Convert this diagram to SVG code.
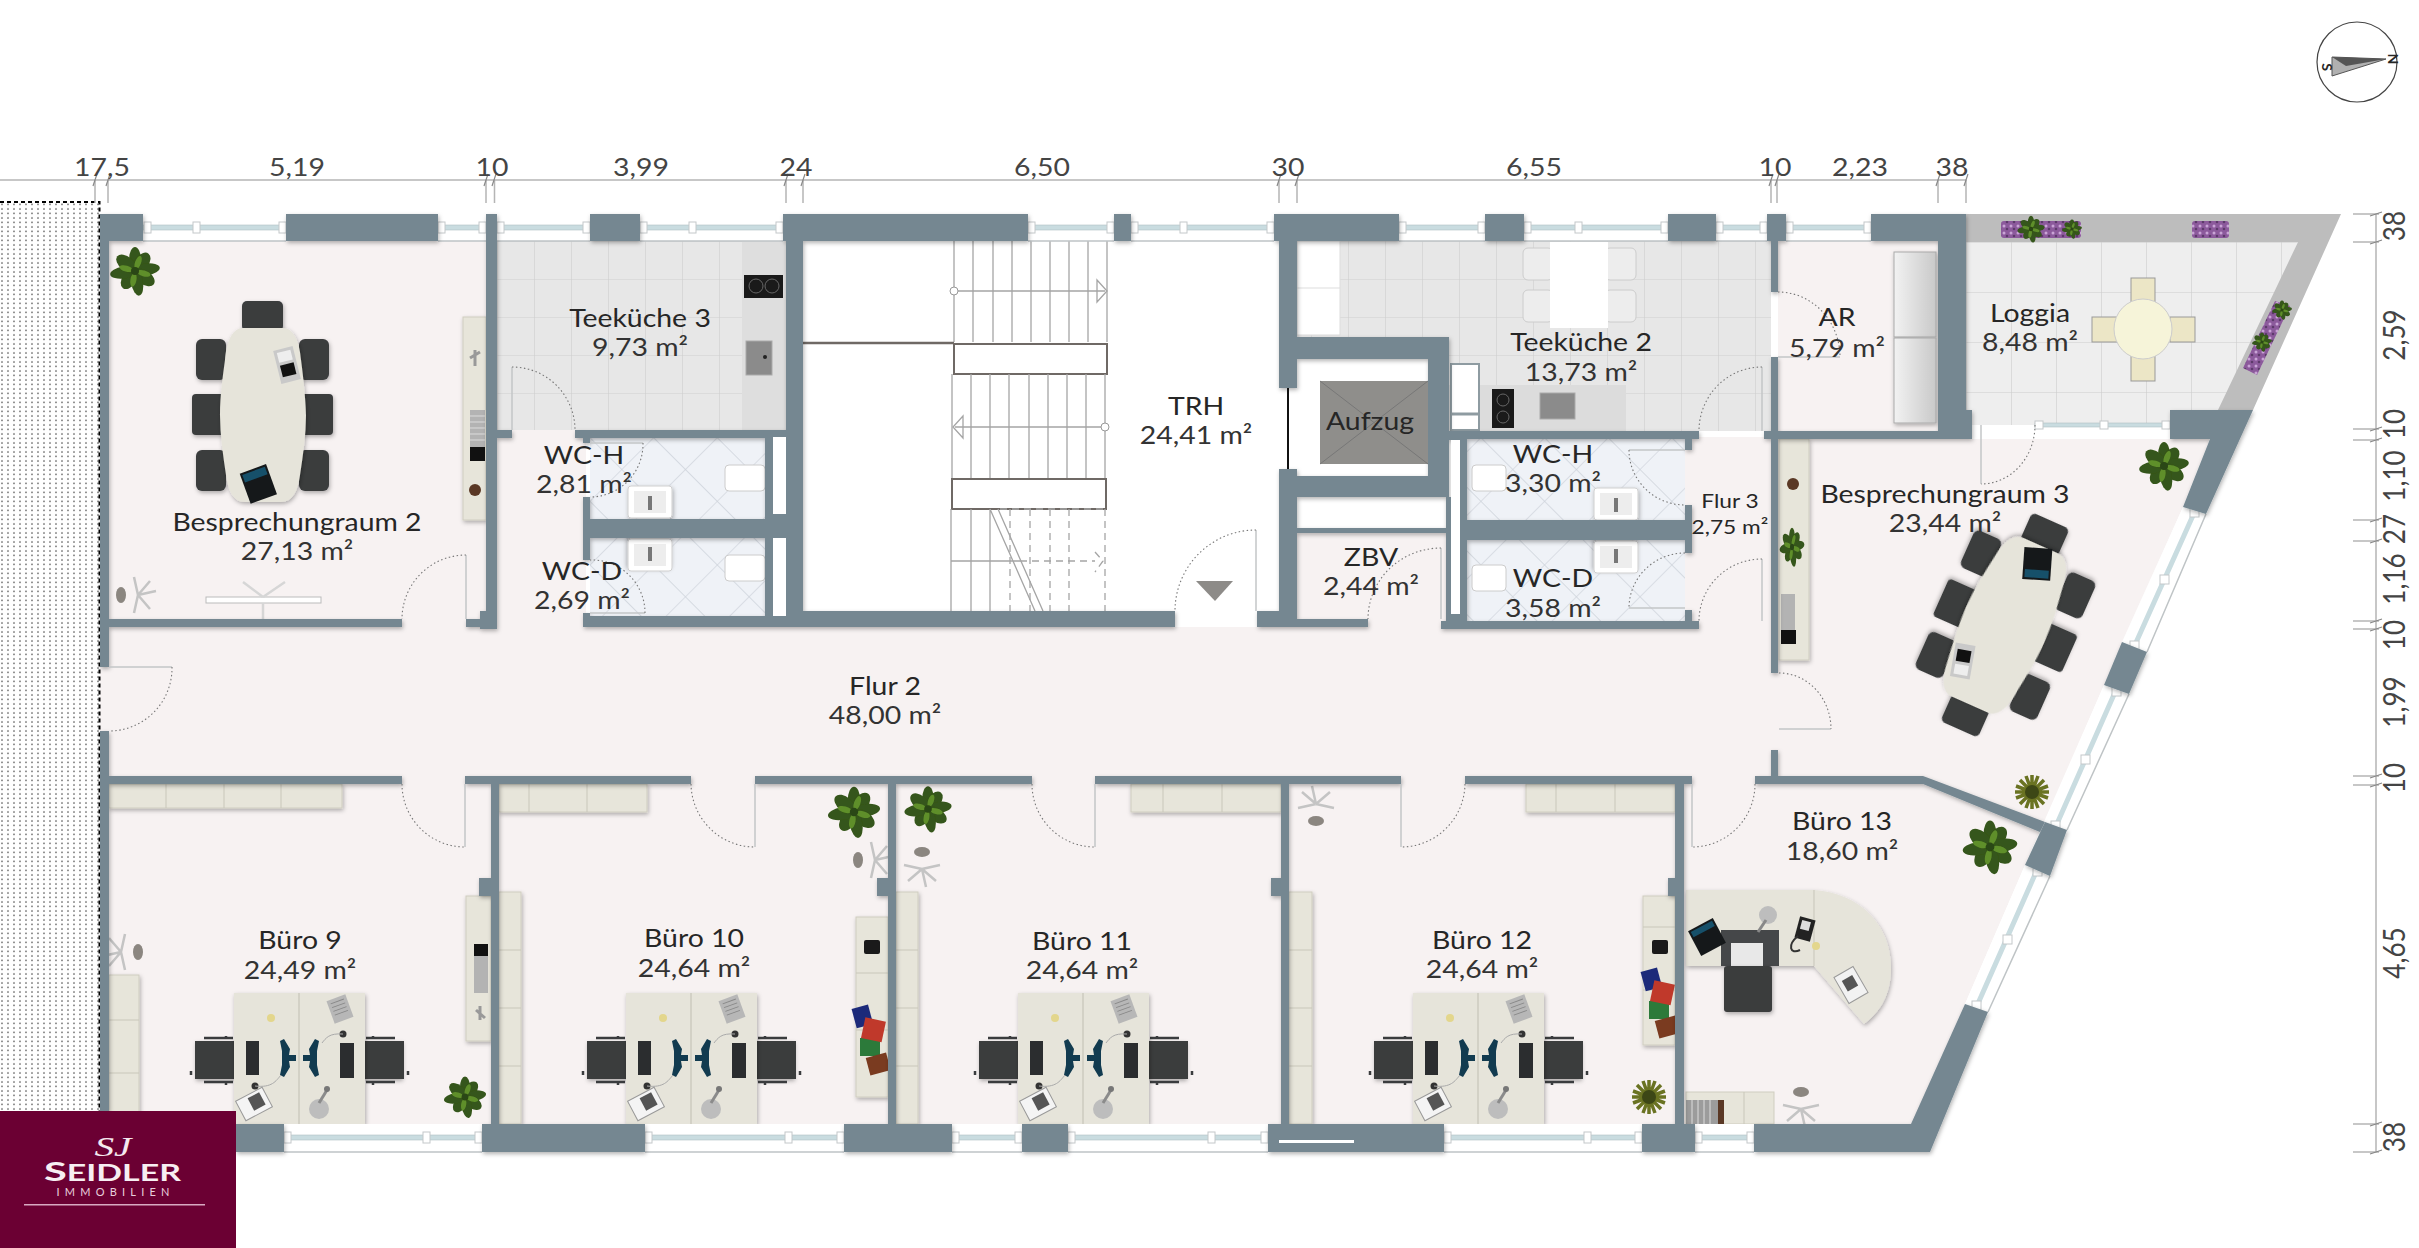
<svg xmlns="http://www.w3.org/2000/svg" xmlns:xlink="http://www.w3.org/1999/xlink" width="2419" height="1248" viewBox="0 0 2419 1248">
<style>
text{font-family:"Lato","Open Sans","Liberation Sans",sans-serif;fill:#262626;text-anchor:middle}
.n{font-size:25px}.a{font-size:25px;fill:#333}.d{font-size:25px;fill:#444}.r{font-size:30px;fill:#444}.s{font-size:20px}
.w{fill:#748791}.fl{fill:#f7f2f2}.cab{fill:#e7e5da;stroke:#cfcdc0;stroke-width:1}
.lf{fill:none;stroke:#c3c6c7;stroke-width:1.5}.arc{fill:none;stroke:#777;stroke-width:1.1;stroke-dasharray:1.5 2.5}
.dim{fill:none;stroke:#b5b5b5;stroke-width:1.5}.st{fill:none;stroke:#a5a5a5;stroke-width:1.3}
.lan{fill:#fff;stroke:#6f6965;stroke-width:2}.wbg{fill:#fff}.gl{fill:#c9dce0;stroke:#aebfc4;stroke-width:.6}
.p{fill:#fff;stroke:#c4c8ca;stroke-width:1}.sh{filter:url(#sh)}
</style>
<defs>
<filter id="sh" x="-20%" y="-20%" width="140%" height="140%"><feDropShadow dx="1" dy="2" stdDeviation="2" flood-color="#000" flood-opacity=".3"/></filter>
<filter id="soft" x="-10%" y="-10%" width="120%" height="120%"><feGaussianBlur stdDeviation=".7"/></filter>
<pattern id="dots" width="6" height="4.500" patternUnits="userSpaceOnUse"><rect width="6" height="4.500" fill="#fff"/><circle cx="2" cy="2" r=".8" fill="#555"/></pattern>
<pattern id="purp" width="7" height="7" patternUnits="userSpaceOnUse"><rect width="7" height="7" fill="#8c5a9c"/><circle cx="2" cy="2" r="1.500" fill="#c9a4d6"/><circle cx="5" cy="5" r="1.300" fill="#5d3a6b"/></pattern>
<pattern id="tile" x="497" y="241" width="37" height="38" patternUnits="userSpaceOnUse"><rect width="37" height="38" fill="#e7e7e7"/><path d="M0 0H37M0 0V38" stroke="#cfcfcf" stroke-width="1.2"/></pattern>
<pattern id="wct" width="45" height="45" patternUnits="userSpaceOnUse" patternTransform="translate(590 437) rotate(45)"><rect width="45" height="45" fill="#eff2f7"/><path d="M0 0H45M0 0V45" stroke="#cdd3da" stroke-width="1.300"/></pattern>
<pattern id="lt" x="1966" y="242" width="45" height="50" patternUnits="userSpaceOnUse"><rect width="45" height="50" fill="#eeeeee"/><path d="M0 0H45M0 0V50" stroke="#cdcdcd" stroke-width="1.2"/></pattern>
<linearGradient id="cg" x1="0" x2="1"><stop offset="0" stop-color="#f2f2f2"/><stop offset="1" stop-color="#c9c9c9"/></linearGradient>
<g id="plant" filter="url(#soft)"><g fill="#35561a"><ellipse rx="6" ry="13" cy="-11"/><ellipse rx="7" ry="11" cy="-11" transform="rotate(38)"/><ellipse rx="6" ry="14" cy="-11" transform="rotate(82)"/><ellipse rx="7" ry="12" cy="-11" transform="rotate(125)"/><ellipse rx="6" ry="14" cy="-11" transform="rotate(170)"/><ellipse rx="7" ry="11" cy="-10" transform="rotate(215)"/><ellipse rx="6" ry="14" cy="-11" transform="rotate(262)"/><ellipse rx="7" ry="12" cy="-11" transform="rotate(310)"/></g><g fill="#5f8f2c"><ellipse rx="3" ry="7" cy="-9" transform="rotate(20)"/><ellipse rx="3" ry="7" cy="-9" transform="rotate(105)"/><ellipse rx="3" ry="7" cy="-9" transform="rotate(190)"/><ellipse rx="3" ry="7" cy="-9" transform="rotate(285)"/></g><circle r="4" fill="#2b4612"/></g>
<g id="palm" filter="url(#soft)"><path d="M0-17V17M-17 0H17M-12-12L12 12M12-12L-12 12M-6-16L6 16M6-16L-6 16M-16-6L16 6M16-6L-16 6" stroke="#6a7324" stroke-width="3.500"/><circle r="7" fill="#3c4714"/></g>
<g id="star"><path d="M0 0L18-4M0 0L12 14M0 0L-4 18M0 0L-4-18M0 0L12-14" stroke="#c4c4c4" stroke-width="2.500" fill="none" transform="translate(8 0)"/><ellipse cx="-9" rx="5" ry="8" fill="#8b8680"/></g>
<rect id="mchair" x="-21" y="-114" width="41" height="30" rx="5" fill="#3a3c3e" class="sh"/>
<g id="mtable"><use xlink:href="#mchair"/><g fill="#3a3c3e" class="sh"><rect x="-67" y="-76" width="30" height="41" rx="6"/><rect x="-71" y="-21" width="34" height="41" rx="4"/><rect x="-67" y="35" width="30" height="41" rx="6"/><rect x="36" y="-76" width="30" height="41" rx="6"/><rect x="36" y="-21" width="34" height="41" rx="4"/><rect x="36" y="35" width="30" height="41" rx="6"/></g><path class="sh" d="M-20-87H20C32-87 37-70 38-55C42-25 43-5 43 0C43 20 40 40 37 60C35 75 30 87 18 87H-18C-30 87-35 75-37 60C-40 40-43 20-43 0C-43-20-40-40-38-55C-37-70-32-87-20-87Z" fill="#e6e4da"/><g transform="translate(24 -50) rotate(-14)"><rect x="-10" y="-17" width="20" height="34" fill="#c9c9c9"/><rect x="-7" y="-1" width="14" height="12" fill="#111"/><rect x="-7" y="-14" width="14" height="10" fill="#eee"/></g><g transform="translate(-5 68) rotate(-20)"><rect x="-14" y="-15" width="28" height="32" fill="#15181a"/><rect x="-12" y="-13" width="24" height="8" fill="#16506a"/></g></g>
<g id="schair"><rect x="-39" y="0" width="39" height="38" fill="#3a3c3e" class="sh"/><path d="M-30-3H-1M-30 41H-1M-8-5V-2M-8 40V44M-43 30v4" stroke="#3a3c3e" stroke-width="2.5"/></g>
<g id="desk"><use xlink:href="#schair" y="48"/><use xlink:href="#schair" transform="translate(131 48) scale(-1 1)"/><rect width="131" height="131" fill="#e6e4da" class="sh"/><path d="M65 0V131" stroke="#c7c5b9" stroke-width="1.2"/><rect x="12" y="48" width="13" height="34" fill="#2b2d2f"/><rect x="106" y="50" width="14" height="35" fill="#2b2d2f"/><path d="M46 48L50 46L56 56L55 62L62 62V68L55 68L56 74L50 84L46 82L48 72V58Z" fill="#123b50"/><path d="M85 48L81 46L75 56L76 62L69 62V68L76 68L75 74L81 84L85 82L83 72V58Z" fill="#123b50"/><g transform="translate(106 16) rotate(-20)"><rect x="-10" y="-12" width="20" height="24" fill="#b7b7b7"/><path d="M-7-8H7M-7-4H7M-7 0H7M-7 4H7" stroke="#888"/></g><circle cx="37" cy="25" r="4" fill="#e3d68c"/><g transform="translate(20 111) rotate(-28)"><rect x="-15" y="-11" width="30" height="22" fill="#f4f4f4" stroke="#999"/><rect x="-3" y="-8" width="13" height="14" fill="#555"/></g><circle cx="85" cy="116" r="10" fill="#bdbdbd"/><path d="M85 110L93 97" stroke="#8b8b8b" stroke-width="3"/><circle cx="93" cy="96" r="3" fill="#777"/><circle cx="109" cy="41" r="3.5" fill="#333"/><circle cx="21" cy="93" r="3.5" fill="#333"/><path d="M109 41C95 40 92 45 88 50M21 93C38 95 42 88 47 82" fill="none" stroke="#aaa"/></g>
<g id="books"><rect x="-11" y="-34" width="17" height="20" fill="#1c2a7a" transform="rotate(-15)"/><rect x="-11" y="-1" width="20" height="18" fill="#2c7a3a"/><rect x="-10" y="-20" width="21" height="21" fill="#c0392b" transform="rotate(12)"/><rect x="-10" y="17" width="21" height="18" fill="#7a3b20" transform="rotate(-15)"/></g>
<g id="sink"><rect x="-22" y="-16" width="44" height="32" rx="3" fill="#fff" stroke="#cfcfcf" class="sh"/><rect x="-16" y="-11" width="32" height="22" fill="#ededed"/><rect x="-2" y="-6" width="4" height="14" fill="#777"/></g>
</defs>
<rect width="2419" height="1248" fill="#fff"/>
<g id="outside"><rect x="0" y="202" width="100" height="909" fill="url(#dots)"/><rect class="fl" x="100" y="667" width="9" height="64"/><path d="M0 202H99.500V1111" fill="none" stroke="#000" stroke-width="2" stroke-dasharray="4 3"/></g>

<g id="floors">
<rect class="fl" x="109" y="241" width="377" height="386"/>
<rect class="fl" x="486" y="430" width="100" height="190"/>
<rect class="fl" x="109" y="620" width="1670" height="165"/>
<rect class="fl" x="109" y="784" width="1580" height="345"/>
<rect x="497" y="241" width="289" height="189" fill="url(#tile)"/>
<rect x="742" y="241" width="44" height="189" fill="#dedede"/>
<rect x="590" y="437" width="175" height="179" fill="url(#wct)"/>
<rect x="803" y="241" width="476" height="386" fill="#fff"/>
<rect x="1297" y="241" width="474" height="190" fill="url(#tile)"/>
<rect x="1297" y="359" width="131" height="117" fill="#fff"/>
<rect x="1297" y="497" width="149" height="31" fill="#fff"/>
<rect class="fl" x="1297" y="533" width="149" height="90"/>
<rect x="1467" y="437" width="218" height="184" fill="url(#wct)"/>
<rect class="fl" x="1685" y="437" width="90" height="190"/>
<rect class="fl" x="1778" y="241" width="160" height="190"/>
<polygon class="fl" points="1778,439 2210,439 2183,507 2104,685 2025,865 1965,1004 1911,1125 1684,1125 1684,784 1778,784"/>
<polygon points="1966,242 2298,242 2218,425 1966,425" fill="url(#lt)"/>
<polygon points="1966,214 2341,214 2253,410 2218,410 2298,242 1966,242" fill="#bdbdbd"/>
</g>

<g id="stair">
<path class="st" d="M954 241V342M973 241V342M993 241V342M1012 241V342M1031 241V342M1050 241V342M1069 241V342M1088 241V342M1107 241V342M954 291H1105"/>
<circle cx="954" cy="291" r="4" fill="#fff" stroke="#999"/><path class="st" d="M1097 280L1107 291L1097 302Z" fill="#fff"/>
<rect class="lan" x="954" y="344" width="153" height="30"/><path d="M803 343H954" stroke="#6f6965" stroke-width="2.500"/>
<path class="st" d="M952 374V479M971 374V479M990 374V479M1009 374V479M1029 374V479M1048 374V479M1067 374V479M1086 374V479M1105 374V479M955 427H1105"/>
<circle cx="1105" cy="427" r="4" fill="#fff" stroke="#999"/><path class="st" d="M963 416L953 427L963 438Z" fill="#fff"/>
<rect class="lan" x="952" y="479" width="154" height="30"/>
<path class="st" d="M951 509V611M971 509V611M990 509V611M951 561H1020M990 509L1035 611M998 509L1043 611"/>
<path class="st" stroke-dasharray="7 5" d="M1000 509H1105M1010 509V611M1030 509V611M1050 509V611M1069 509V611M1105 509V611M1020 561H1095M1095 552L1103 561L1095 572"/>
<polygon points="1196,581 1233,581 1215,601" fill="#8d8b88"/>
</g>

<g id="furniture">
<g id="bespr2-furn">
<use xlink:href="#plant" transform="translate(135 271)"/>
<use xlink:href="#mtable" transform="translate(263 415)"/>
<rect class="cab sh" x="463" y="317" width="23" height="203"/>
<rect x="470" y="410" width="15" height="37" fill="#b3b3b3"/><path d="M470 416H485M470 422H485M470 428H485M470 434H485M470 440H485" stroke="#dcdcdc"/>
<rect x="470" y="447" width="15" height="14" fill="#111"/>
<circle cx="475" cy="490" r="6" fill="#5a3825"/>
<path d="M470 358L480 352M475 350V366" stroke="#999" stroke-width="3"/>
<use xlink:href="#star" transform="translate(130 595)"/>
<rect x="206" y="597" width="115" height="6" fill="#fff" stroke="#bbb"/>
<path d="M263 597L243 582M263 597L285 582M263 603V619" stroke="#d6d6d6" stroke-width="2.500"/>
</g>
<g id="k3-furn"><rect x="744" y="275" width="39" height="23" fill="#1a1a1a"/><circle cx="756" cy="286" r="7" fill="none" stroke="#666"/><circle cx="772" cy="286" r="7" fill="none" stroke="#666"/><rect x="746" y="341" width="26" height="34" fill="#8b8b8b" stroke="#aaa"/><circle cx="765" cy="357" r="2" fill="#222"/></g>
<g id="wc-furn">
<use xlink:href="#sink" transform="translate(650 502)"/><use xlink:href="#sink" transform="translate(650 555) rotate(180)"/>
<rect x="725" y="465" width="40" height="26" rx="4" fill="#fff" stroke="#ccc"/><rect x="725" y="555" width="40" height="26" rx="4" fill="#fff" stroke="#ccc"/>
<rect x="1472" y="465" width="34" height="26" rx="4" fill="#fff" stroke="#ccc"/><rect x="1472" y="565" width="34" height="26" rx="4" fill="#fff" stroke="#ccc"/>
<use xlink:href="#sink" transform="translate(1616 504)"/><use xlink:href="#sink" transform="translate(1616 557) rotate(180)"/>
</g>
<g id="k2-furn">
<rect x="1297" y="241" width="43" height="94" fill="#fff" stroke="#ddd"/><path d="M1297 288H1340" stroke="#ddd"/>
<g fill="#ededed" stroke="#ccc"><rect x="1523" y="248" width="30" height="32" rx="5"/><rect x="1523" y="290" width="30" height="32" rx="5"/><rect x="1605" y="248" width="31" height="32" rx="5"/><rect x="1605" y="290" width="31" height="32" rx="5"/></g>
<rect x="1550" y="242" width="58" height="86" fill="#fff"/>
<rect x="1449" y="385" width="177" height="46" fill="#dcdcdc"/>
<rect x="1451" y="364" width="28" height="66" fill="#fff" stroke="#8e9ba1" stroke-width="2"/><path d="M1451 414H1479" stroke="#8e9ba1" stroke-width="3"/>
<rect x="1492" y="389" width="22" height="39" fill="#1a1a1a"/><circle cx="1503" cy="400" r="6" fill="none" stroke="#666"/><circle cx="1503" cy="417" r="6" fill="none" stroke="#666"/><rect x="1540" y="393" width="35" height="26" fill="#8b8b8b" stroke="#aaa"/>
</g>
<g id="ar-furn"><rect x="1894" y="252" width="42" height="85" fill="url(#cg)" stroke="#aaa" class="sh"/><rect x="1894" y="338" width="42" height="85" fill="url(#cg)" stroke="#aaa" class="sh"/></g>
<g id="loggia-furn">
<g fill="#ece6c6" stroke="#999"><rect x="2131" y="278" width="24" height="25"/><rect x="2131" y="356" width="24" height="25"/><rect x="2092" y="317" width="25" height="25"/><rect x="2170" y="317" width="25" height="25"/></g>
<ellipse cx="2143" cy="329" rx="29" ry="30" fill="#f6f4d9" stroke="#ccc"/>
<rect x="2001" y="221" width="80" height="17" rx="3" fill="url(#purp)"/><use xlink:href="#plant" transform="translate(2031 229) scale(.55)"/><use xlink:href="#plant" transform="translate(2072 229) scale(.4)"/>
<rect x="2192" y="221" width="37" height="17" rx="3" fill="url(#purp)"/>
<polygon points="2275,301 2290,306 2257,375 2243,368" fill="url(#purp)"/><use xlink:href="#plant" transform="translate(2282 310) scale(.4)"/><use xlink:href="#plant" transform="translate(2262 342) scale(.4)"/>
</g>
<g id="bespr3-furn">
<use xlink:href="#plant" transform="translate(2164 466)"/>
<use xlink:href="#mchair" transform="translate(2005 625) rotate(24)"/>
<use xlink:href="#mtable" transform="translate(2005 625) rotate(204)"/>
<use xlink:href="#palm" transform="translate(2032 792)"/>
<rect class="cab sh" x="1779" y="439" width="30" height="221"/>
<circle cx="1793" cy="484" r="6" fill="#5a3825"/><use xlink:href="#plant" transform="translate(1792 547) scale(.5 .8)"/>
<rect x="1781" y="594" width="14" height="36" fill="#b3b3b3"/><rect x="1781" y="630" width="15" height="14" fill="#111"/>
</g>
<g id="office-furn">
<g class="cab sh"><rect x="109" y="784" width="233" height="24"/><rect x="499" y="784" width="148" height="28"/><rect x="1131" y="784" width="150" height="28"/><rect x="1526" y="784" width="149" height="28"/><rect x="109" y="975" width="30" height="149"/><rect x="466" y="896" width="25" height="145"/><rect x="499" y="892" width="22" height="232"/><rect x="856" y="917" width="32" height="180"/><rect x="896" y="892" width="22" height="232"/><rect x="1289" y="892" width="23" height="232"/><rect x="1643" y="896" width="32" height="149"/></g>
<path stroke="#c9c7ba" fill="none" d="M166 784V808M224 784V808M281 784V808M529 784V812M587 784V812M1163 784V812M1222 784V812M1556 784V812M1615 784V812M109 1020H139M109 1073H139M499 950H521M499 1008H521M499 1066H521M856 973H888M856 1030H888M896 950H918M896 1008H918M896 1066H918M1289 950H1312M1289 1008H1312M1289 1066H1312M1643 927H1675M1643 990H1675"/>
<use xlink:href="#desk" x="234" y="993"/><use xlink:href="#desk" x="626" y="993"/><use xlink:href="#desk" x="1018" y="993"/><use xlink:href="#desk" x="1413" y="993"/>
<rect x="474" y="944" width="14" height="49" fill="#b3b3b3"/><rect x="474" y="944" width="14" height="12" fill="#111"/><path d="M476 1010L485 1018M480 1006V1020" stroke="#999" stroke-width="3"/>
<rect x="864" y="940" width="16" height="14" rx="2" fill="#1a1a1a"/><use xlink:href="#books" transform="translate(871 1039)"/>
<rect x="1652" y="940" width="16" height="14" rx="2" fill="#1a1a1a"/><use xlink:href="#books" transform="translate(1660 1002)"/>
<use xlink:href="#plant" transform="translate(465 1097) scale(.85)"/><use xlink:href="#plant" transform="translate(854 812) scale(1.05)"/><use xlink:href="#plant" transform="translate(928 809) scale(.95)"/>
<use xlink:href="#palm" transform="translate(1649 1097)"/>
<use xlink:href="#star" transform="translate(867 860)"/><use xlink:href="#star" transform="translate(922 861) rotate(90)"/><use xlink:href="#star" transform="translate(1316 812) rotate(-90)"/><use xlink:href="#star" transform="translate(129 952) rotate(180)"/>
<path class="sh" d="M1686 890H1814C1860 893 1891 925 1891 968C1891 995 1880 1012 1864 1024L1814 966H1686Z" fill="#e6e4da"/><path d="M1814 890V966" stroke="#c7c5b9"/>
<rect x="1721" y="930" width="58" height="36" fill="#454749"/><rect x="1731" y="943" width="32" height="23" fill="#e8e8e8"/>
<rect x="1724" y="966" width="48" height="46" rx="3" fill="#3a3c3e" class="sh"/>
<g transform="translate(1707 937) rotate(-28)"><rect x="-14" y="-14" width="28" height="28" fill="#15181a"/><rect x="-12" y="-12" width="24" height="6" fill="#16506a"/></g>
<g transform="translate(1805 929) rotate(15)"><rect x="-8" y="-11" width="16" height="22" fill="#222"/><rect x="-5" y="-8" width="9" height="9" fill="#ddd"/></g>
<path d="M1798 936C1787 945 1790 955 1800 950" fill="none" stroke="#333" stroke-width="2"/><circle cx="1816" cy="946" r="4" fill="#e3d68c"/>
<circle cx="1768" cy="915" r="9" fill="#bdbdbd"/><path d="M1766 920L1758 932" stroke="#888" stroke-width="3"/>
<g transform="translate(1851 985) rotate(-30)"><rect x="-11" y="-15" width="22" height="30" fill="#f2f2f2" stroke="#999"/><rect x="-6" y="-8" width="12" height="12" fill="#555"/></g>
<rect x="1686" y="1092" width="88" height="32" class="cab"/><rect x="1686" y="1100" width="32" height="24" fill="#9c9c9c"/><path d="M1692 1100V1124M1698 1100V1124M1704 1100V1124M1710 1100V1124" stroke="#ddd"/><rect x="1718" y="1100" width="6" height="24" fill="#5a3825"/><path d="M1744 1092V1124" stroke="#c9c7ba"/>
<use xlink:href="#star" transform="translate(1801 1101) rotate(90)"/>
<use xlink:href="#plant" transform="translate(1990 847) scale(1.1)"/>
</g>
</g>

<g id="windows">
<rect class="wbg" x="143" y="214" width="143" height="27"/><rect class="wbg" x="438" y="214" width="48" height="27"/><rect class="wbg" x="497" y="214" width="93" height="27"/><rect class="wbg" x="640" y="214" width="143" height="27"/><rect class="wbg" x="1028" y="214" width="86" height="27"/><rect class="wbg" x="1131" y="214" width="143" height="27"/><rect class="wbg" x="1399" y="214" width="86" height="27"/><rect class="wbg" x="1524" y="214" width="144" height="27"/><rect class="wbg" x="1716" y="214" width="51" height="27"/><rect class="wbg" x="1786" y="214" width="85" height="27"/>
<rect class="wbg" x="284" y="1124" width="198" height="28"/><rect class="wbg" x="645" y="1124" width="199" height="28"/><rect class="wbg" x="952" y="1124" width="70" height="28"/><rect class="wbg" x="1068" y="1124" width="200" height="28"/><rect class="wbg" x="1444" y="1124" width="198" height="28"/><rect class="wbg" x="1695" y="1124" width="59" height="28"/>
<path d="M143 241H286M438 241H486M497 241H590M640 241H783M1028 241H1114M1131 241H1274M1399 241H1485M1524 241H1668M1716 241H1767M1786 241H1871M284 1152H482M645 1152H844M952 1152H1022M1068 1152H1268M1444 1152H1642M1695 1152H1754" stroke="#bfc4c6" stroke-width="1.500"/>
<g class="gl"><rect x="143" y="225" width="143" height="5"/><rect x="438" y="225" width="48" height="5"/><rect x="497" y="225" width="93" height="5"/><rect x="640" y="225" width="143" height="5"/><rect x="1028" y="225" width="86" height="5"/><rect x="1131" y="225" width="143" height="5"/><rect x="1399" y="225" width="86" height="5"/><rect x="1524" y="225" width="144" height="5"/><rect x="1716" y="225" width="51" height="5"/><rect x="1786" y="225" width="85" height="5"/><rect x="284" y="1135" width="198" height="5"/><rect x="645" y="1135" width="199" height="5"/><rect x="952" y="1135" width="70" height="5"/><rect x="1068" y="1135" width="200" height="5"/><rect x="1444" y="1135" width="198" height="5"/><rect x="1695" y="1135" width="59" height="5"/><rect x="2035" y="423" width="135" height="4"/></g>
<g class="p"><rect x="144" y="222" width="7" height="11"/><rect x="193" y="222" width="7" height="11"/><rect x="279" y="222" width="7" height="11"/><rect x="438" y="222" width="7" height="11"/><rect x="479" y="222" width="7" height="11"/><rect x="497" y="222" width="7" height="11"/><rect x="583" y="222" width="7" height="11"/><rect x="640" y="222" width="7" height="11"/><rect x="689" y="222" width="7" height="11"/><rect x="776" y="222" width="7" height="11"/><rect x="1028" y="222" width="7" height="11"/><rect x="1107" y="222" width="7" height="11"/><rect x="1131" y="222" width="7" height="11"/><rect x="1180" y="222" width="7" height="11"/><rect x="1267" y="222" width="7" height="11"/><rect x="1399" y="222" width="7" height="11"/><rect x="1478" y="222" width="7" height="11"/><rect x="1524" y="222" width="7" height="11"/><rect x="1575" y="222" width="7" height="11"/><rect x="1661" y="222" width="7" height="11"/><rect x="1716" y="222" width="7" height="11"/><rect x="1760" y="222" width="7" height="11"/><rect x="1786" y="222" width="7" height="11"/><rect x="1864" y="222" width="7" height="11"/>
<rect x="284" y="1132" width="7" height="11"/><rect x="423" y="1132" width="7" height="11"/><rect x="475" y="1132" width="7" height="11"/><rect x="645" y="1132" width="7" height="11"/><rect x="785" y="1132" width="7" height="11"/><rect x="837" y="1132" width="7" height="11"/><rect x="952" y="1132" width="7" height="11"/><rect x="1015" y="1132" width="7" height="11"/><rect x="1068" y="1132" width="7" height="11"/><rect x="1208" y="1132" width="7" height="11"/><rect x="1261" y="1132" width="7" height="11"/><rect x="1444" y="1132" width="7" height="11"/><rect x="1584" y="1132" width="7" height="11"/><rect x="1635" y="1132" width="7" height="11"/><rect x="1695" y="1132" width="7" height="11"/><rect x="1747" y="1132" width="7" height="11"/>
<rect x="2035" y="421" width="8" height="8"/><rect x="2100" y="421" width="8" height="8"/><rect x="2162" y="421" width="8" height="8"/></g>
<polygon class="wbg" points="2183,507 2206,514 2147,652 2122,642"/><polygon class="wbg" points="2104,685 2129,694 2067,830 2045,822"/><polygon class="wbg" points="2025,865 2050,876 1988,1012 1965,1004"/>
<path d="M2206 514L2147 652M2129 694L2067 830M2050 876L1988 1012" stroke="#bfc4c6" stroke-width="1.500"/>
<path d="M2195 511L2134 647M2116 690L2056 826M2037 870L1976 1008" stroke="#c9dce0" stroke-width="5"/>
<g class="p"><rect x="2190" y="508" width="9" height="9"/><rect x="2160" y="575" width="9" height="9"/><rect x="2130" y="641" width="9" height="9"/><rect x="2112" y="687" width="9" height="9"/><rect x="2081" y="755" width="9" height="9"/><rect x="2051" y="821" width="9" height="9"/><rect x="2033" y="867" width="9" height="9"/><rect x="2003" y="935" width="9" height="9"/><rect x="1972" y="1001" width="9" height="9"/></g>
</g>

<g id="walls" class="sh">
<g class="w">
<rect x="100" y="214" width="43" height="27"/><rect x="286" y="214" width="152" height="27"/><rect x="486" y="214" width="11" height="27"/><rect x="590" y="214" width="50" height="27"/><rect x="783" y="214" width="245" height="27"/><rect x="1114" y="214" width="17" height="27"/><rect x="1274" y="214" width="125" height="27"/><rect x="1485" y="214" width="39" height="27"/><rect x="1668" y="214" width="48" height="27"/><rect x="1767" y="214" width="19" height="27"/><rect x="1871" y="214" width="95" height="27"/>
<rect x="100" y="241" width="9" height="426"/><rect x="100" y="731" width="9" height="380"/>
<rect x="236" y="1124" width="48" height="28"/><rect x="482" y="1124" width="163" height="28"/><rect x="844" y="1124" width="108" height="28"/><rect x="1022" y="1124" width="46" height="28"/><rect x="1268" y="1124" width="176" height="28"/><rect x="1642" y="1124" width="53" height="28"/>
<polygon points="1754,1124 1911,1124 1965,1004 1988,1012 1930,1152 1754,1152"/>
<polygon points="2170,410 2253,410 2206,514 2183,507 2210,439 2170,439"/>
<polygon points="2122,642 2147,652 2129,694 2104,685"/><polygon points="2045,822 2067,830 2050,876 2025,865"/>
<rect x="486" y="241" width="11" height="388"/><rect x="109" y="619" width="293" height="8"/><rect x="466" y="619" width="31" height="8"/><rect x="480" y="611" width="17" height="18"/>
<rect x="486" y="430" width="26" height="8"/><rect x="575" y="430" width="228" height="8"/>
<rect x="583" y="437" width="7" height="6"/><rect x="583" y="497" width="7" height="63"/><rect x="583" y="613" width="7" height="14"/>
<rect x="583" y="519" width="190" height="19"/><rect x="765" y="437" width="8" height="190"/><rect x="773" y="514" width="13" height="24"/><rect x="773" y="616" width="13" height="11"/>
<rect x="786" y="241" width="17" height="386"/><rect x="583" y="616" width="220" height="11"/><rect x="803" y="611" width="372" height="16"/><rect x="1257" y="611" width="22" height="16"/>
<rect x="1279" y="241" width="18" height="147"/><rect x="1279" y="469" width="18" height="158"/>
<rect x="1297" y="337" width="152" height="22"/><rect x="1428" y="359" width="21" height="117"/><rect x="1297" y="476" width="152" height="21"/><rect x="1297" y="528" width="149" height="5"/>
<rect x="1297" y="619" width="71" height="8"/><rect x="1446" y="497" width="5" height="130"/><rect x="1449" y="431" width="18" height="9"/><rect x="1460" y="440" width="7" height="187"/><rect x="1451" y="614" width="9" height="13"/>
<rect x="1449" y="431" width="250" height="8"/><rect x="1764" y="431" width="208" height="8"/><rect x="1441" y="621" width="258" height="8"/>
<rect x="1467" y="520" width="225" height="20"/><rect x="1685" y="438" width="7" height="12"/><rect x="1685" y="505" width="7" height="48"/><rect x="1685" y="610" width="7" height="19"/>
<rect x="1771" y="241" width="7" height="51"/><rect x="1771" y="357" width="7" height="316"/><rect x="1771" y="750" width="7" height="26"/>
<rect x="1938" y="241" width="28" height="190"/><rect x="1966" y="410" width="6" height="29"/>
<rect x="100" y="776" width="302" height="8"/><rect x="465" y="776" width="226" height="8"/><rect x="755" y="776" width="277" height="8"/><rect x="1095" y="776" width="306" height="8"/><rect x="1465" y="776" width="227" height="8"/><rect x="1755" y="776" width="168" height="8"/>
<polygon points="1923,776 2045,822 2040,832 1923,784"/>
<rect x="491" y="784" width="8" height="340"/><rect x="479" y="878" width="12" height="18"/><rect x="888" y="784" width="8" height="340"/><rect x="877" y="878" width="11" height="18"/><rect x="1281" y="784" width="8" height="340"/><rect x="1271" y="878" width="10" height="18"/><rect x="1675" y="784" width="9" height="340"/><rect x="1668" y="878" width="16" height="18"/>
</g>
</g>
<rect x="1279" y="1140" width="75" height="3" fill="#fff"/>
<rect x="1287" y="388" width="2" height="81" fill="#111"/>

<g id="elevator"><rect x="1320" y="381" width="108" height="83" fill="#8f8e8b"/><path d="M1320 381L1428 464M1428 381L1320 464" stroke="#777" stroke-width="1"/></g>
<rect x="1451" y="440" width="9" height="174" fill="#fff"/>
<rect x="773" y="437" width="13" height="77" fill="#fff"/><rect x="773" y="538" width="13" height="78" fill="#fff"/>

<g id="doors">
<path class="lf" d="M512 367V430M590 443H643M590 613H645M466 555V619M109 667H172M465 784V847M755 784V847M1095 784V847M1401 784V847M1692 784V847M1256 530V611M1441 548V619M1778 357H1840M1762 367V431M1629 450H1685M1629 608H1685M1762 559V621M1981 425V484M1779 729H1831"/>
<path class="arc" d="M512 367A63 63 0 0 1 575 430M643 443A53 53 0 0 1 590 497M645 613A53 53 0 0 0 590 560M466 555A64 64 0 0 0 402 619M172 667A63 63 0 0 1 109 731M402 784A63 63 0 0 0 465 847M691 784A64 64 0 0 0 755 847M1032 784A63 63 0 0 0 1095 847M1465 784A64 64 0 0 1 1401 847M1755 784A63 63 0 0 1 1692 847M1256 530A81 81 0 0 0 1175 611M1441 548A73 71 0 0 0 1368 619M1778 292A62 65 0 0 1 1840 357M1762 367A63 64 0 0 0 1699 431M1629 450A56 55 0 0 0 1685 505M1685 553A56 55 0 0 0 1629 608M1762 559A63 62 0 0 0 1699 621M2035 425A54 59 0 0 1 1981 484M1779 673A52 56 0 0 1 1831 729"/>
</g>

<g id="dimensions">
<path class="dim" d="M0 180H1966M95 180V203M108 180V203M486 180V203M494.500 180V203M786 180V203M803 180V203M1279 180V203M1297 180V203M1771 180V203M1777 180V203M1938 180V203M1966 180V203"/>
<path class="dim" d="M2376 214V1152M2353 214H2379M2353 242H2379M2353 429H2379M2353 440H2379M2353 520H2379M2353 541H2379M2353 621H2379M2353 629H2379M2353 776H2379M2353 785H2379M2353 1124H2379M2353 1152H2379"/>
<path d="M93 186L97 174M106 186L110 174M484 186L488 174M492 186L496 174M784 186L788 174M801 186L805 174M1277 186L1281 174M1295 186L1299 174M1769 186L1773 174M1775 186L1779 174M1936 186L1940 174M1964 186L1968 174M2370 216L2382 212M2370 244L2382 240M2370 431L2382 427M2370 442L2382 438M2370 522L2382 518M2370 543L2382 539M2370 623L2382 619M2370 631L2382 627M2370 778L2382 774M2370 787L2382 783M2370 1126L2382 1122M2370 1154L2382 1150" stroke="#888" stroke-width="1.200" fill="none"/>
<g><text class="d" transform="translate(102 176) scale(1.137 1)">17,5</text><text class="d" transform="translate(297 176) scale(1.137 1)">5,19</text><text class="d" transform="translate(492 176) scale(1.137 1)">10</text><text class="d" transform="translate(641 176) scale(1.137 1)">3,99</text><text class="d" transform="translate(796 176) scale(1.137 1)">24</text><text class="d" transform="translate(1042 176) scale(1.137 1)">6,50</text><text class="d" transform="translate(1288 176) scale(1.137 1)">30</text><text class="d" transform="translate(1534 176) scale(1.137 1)">6,55</text><text class="d" transform="translate(1775 176) scale(1.137 1)">10</text><text class="d" transform="translate(1860 176) scale(1.137 1)">2,23</text><text class="d" transform="translate(1952 176) scale(1.137 1)">38</text>
<text class="r" transform="translate(2405 226) rotate(-90) scale(.87 1)">38</text><text class="r" transform="translate(2405 335) rotate(-90) scale(.87 1)">2,59</text><text class="r" transform="translate(2405 424) rotate(-90) scale(.87 1)">10</text><text class="r" transform="translate(2405 476) rotate(-90) scale(.87 1)">1,10</text><text class="r" transform="translate(2405 529) rotate(-90) scale(.87 1)">27</text><text class="r" transform="translate(2405 579) rotate(-90) scale(.87 1)">1,16</text><text class="r" transform="translate(2405 635) rotate(-90) scale(.87 1)">10</text><text class="r" transform="translate(2405 702) rotate(-90) scale(.87 1)">1,99</text><text class="r" transform="translate(2405 778) rotate(-90) scale(.87 1)">10</text><text class="r" transform="translate(2405 953) rotate(-90) scale(.87 1)">4,65</text><text class="r" transform="translate(2405 1137) rotate(-90) scale(.87 1)">38</text></g>
</g>

<g id="labels">
<g id="room-bespr2"><text class="n" transform="translate(297 531) scale(1.137 1)">Besprechungraum 2</text><text class="a" transform="translate(297 560) scale(1.137 1)">27,13 m²</text></g>
<g id="room-k3"><text class="n" transform="translate(640 327) scale(1.137 1)">Teeküche 3</text><text class="a" transform="translate(640 356) scale(1.137 1)">9,73 m²</text></g>
<g id="room-wch1"><text class="n" transform="translate(584 464) scale(1.137 1)">WC-H</text><text class="a" transform="translate(584 493) scale(1.137 1)">2,81 m²</text></g>
<g id="room-wcd1"><text class="n" transform="translate(582 580) scale(1.137 1)">WC-D</text><text class="a" transform="translate(582 609) scale(1.137 1)">2,69 m²</text></g>
<g id="room-trh"><text class="n" transform="translate(1196 415) scale(1.137 1)">TRH</text><text class="a" transform="translate(1196 444) scale(1.137 1)">24,41 m²</text></g>
<g id="room-aufzug"><text class="n" transform="translate(1370 430) scale(1.137 1)">Aufzug</text></g>
<g id="room-zbv"><text class="n" transform="translate(1371 566) scale(1.137 1)">ZBV</text><text class="a" transform="translate(1371 595) scale(1.137 1)">2,44 m²</text></g>
<g id="room-k2"><text class="n" transform="translate(1581 351) scale(1.137 1)">Teeküche 2</text><text class="a" transform="translate(1581 381) scale(1.137 1)">13,73 m²</text></g>
<g id="room-ar"><text class="n" transform="translate(1837 326) scale(1.137 1)">AR</text><text class="a" transform="translate(1837 357) scale(1.137 1)">5,79 m²</text></g>
<g id="room-loggia"><text class="n" transform="translate(2030 322) scale(1.137 1)">Loggia</text><text class="a" transform="translate(2030 351) scale(1.137 1)">8,48 m²</text></g>
<g id="room-wch2"><text class="n" transform="translate(1553 463) scale(1.137 1)">WC-H</text><text class="a" transform="translate(1553 492) scale(1.137 1)">3,30 m²</text></g>
<g id="room-wcd2"><text class="n" transform="translate(1553 587) scale(1.137 1)">WC-D</text><text class="a" transform="translate(1553 617) scale(1.137 1)">3,58 m²</text></g>
<g id="room-flur3"><text class="s" transform="translate(1730 508) scale(1.137 1)">Flur 3</text><text class="s" transform="translate(1730 534) scale(1.137 1)">2,75 m²</text></g>
<g id="room-bespr3"><text class="n" transform="translate(1945 503) scale(1.137 1)">Besprechungraum 3</text><text class="a" transform="translate(1945 532) scale(1.137 1)">23,44 m²</text></g>
<g id="room-flur2"><text class="n" transform="translate(885 695) scale(1.137 1)">Flur 2</text><text class="a" transform="translate(885 724) scale(1.137 1)">48,00 m²</text></g>
<g id="room-b9"><text class="n" transform="translate(300 949) scale(1.137 1)">Büro 9</text><text class="a" transform="translate(300 979) scale(1.137 1)">24,49 m²</text></g>
<g id="room-b10"><text class="n" transform="translate(694 947) scale(1.137 1)">Büro 10</text><text class="a" transform="translate(694 977) scale(1.137 1)">24,64 m²</text></g>
<g id="room-b11"><text class="n" transform="translate(1082 950) scale(1.137 1)">Büro 11</text><text class="a" transform="translate(1082 979) scale(1.137 1)">24,64 m²</text></g>
<g id="room-b12"><text class="n" transform="translate(1482 949) scale(1.137 1)">Büro 12</text><text class="a" transform="translate(1482 978) scale(1.137 1)">24,64 m²</text></g>
<g id="room-b13"><text class="n" transform="translate(1842 830) scale(1.137 1)">Büro 13</text><text class="a" transform="translate(1842 860) scale(1.137 1)">18,60 m²</text></g>
</g>

<g id="compass"><circle cx="2357" cy="62" r="40" fill="#fff" stroke="#444" stroke-width="1.200"/><polygon points="2332,57 2386,59 2332,76" fill="#b0b0b0" stroke="#555"/><polygon points="2332,57 2386,59 2346,66" fill="#555"/><text transform="translate(2388 59) rotate(90)" style="font-size:14px;font-weight:700">N</text><text transform="translate(2322 67) rotate(90)" style="font-size:14px;font-weight:700">S</text></g>

<g id="logo"><rect x="0" y="1111" width="236" height="137" fill="#6b0033"/>
<text x="113" y="1156" textLength="37" lengthAdjust="spacingAndGlyphs" style="font-family:'Liberation Serif',serif;font-style:italic;font-size:28px;fill:#f4e9ef">SJ</text>
<text x="112.500" y="1181" textLength="137" lengthAdjust="spacingAndGlyphs" style="font-family:'Lato',sans-serif;font-size:27px;font-weight:700;fill:#f7eef2">S<tspan style="font-size:22px">EIDLER</tspan></text>
<text x="113" y="1196" textLength="113" style="font-family:'Lato',sans-serif;font-size:11px;fill:#e8cfdc">IMMOBILIEN</text>
<rect x="24" y="1204" width="181" height="1.500" fill="#d9a9c2"/></g>
</svg>
